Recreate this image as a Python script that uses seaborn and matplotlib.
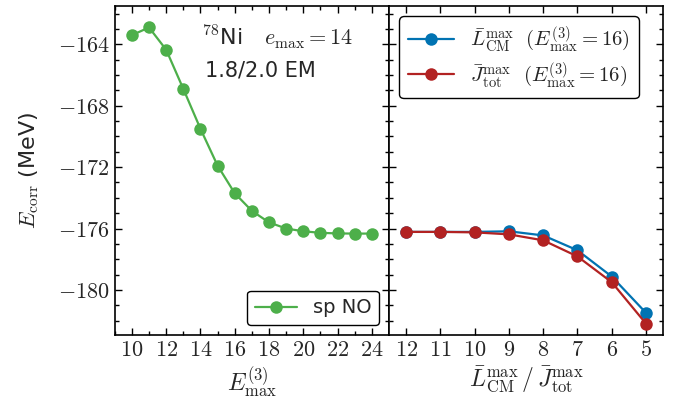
import seaborn as sns
import matplotlib.pyplot as plt
import pandas as pd
from matplotlib.ticker import MultipleLocator, FuncFormatter

# Data
e3max = [10, 11, 12, 13, 14, 15, 16, 17, 18, 19, 20, 21, 22, 23, 24]
e_sp_no = [-163.4, -162.9, -164.35, -166.9, -169.5, -171.9, -173.7, -174.85,
           -175.6, -176.0, -176.18, -176.28, -176.32, -176.33, -176.33]

trunc = [12, 11, 10, 9, 8, 7, 6, 5]
e_lcm = [-176.22, -176.22, -176.22, -176.18, -176.45, -177.42, -179.13, -181.5]
e_jtot = [-176.22, -176.22, -176.25, -176.38, -176.77, -177.82, -179.5, -182.2]

green = "#4daf4a"
blue = "#0173b2"
red = "#b22222"

sns.set_theme(style="ticks")
plt.rcParams["font.family"] = ["DejaVu Sans"]
plt.rcParams["mathtext.fontset"] = "cm"
plt.rcParams["xtick.major.size"] = 5
plt.rcParams["ytick.major.size"] = 5
plt.rcParams["xtick.minor.size"] = 3
plt.rcParams["ytick.minor.size"] = 3

left_df = pd.DataFrame({"x": e3max, "E": e_sp_no})
right_df = pd.DataFrame({
    "x": trunc * 2,
    "E": e_lcm + e_jtot,
    "kind": [r"$\bar{L}^{\max}_{\rm CM}\ \ (E^{(3)}_{\max}=16)$"] * len(trunc)
    + [r"$\bar{J}^{\max}_{\rm tot}\ \ (E^{(3)}_{\max}=16)$"] * len(trunc),
})

fig, (ax1, ax2) = plt.subplots(1, 2, sharey=True, figsize=(6.83, 4.16), dpi=100)
fig.subplots_adjust(left=0.168, right=0.971, top=0.9856, bottom=0.195, wspace=0)

sns.lineplot(data=left_df, x="x", y="E", ax=ax1, color=green, marker="o",
             markersize=9, markeredgewidth=0, linewidth=1.6, label="sp NO")
sns.lineplot(data=right_df, x="x", y="E", hue="kind", ax=ax2,
             palette=[blue, red], marker="o", markersize=9,
             markeredgewidth=0, linewidth=1.6)

math_fmt = FuncFormatter(lambda v, p: f"${v:g}$")

ax1.set_xlim(9, 25)
ax1.xaxis.set_major_locator(MultipleLocator(2))
ax1.xaxis.set_minor_locator(MultipleLocator(1))
ax2.set_xlim(12.5, 4.5)
ax2.xaxis.set_major_locator(MultipleLocator(1))
ax1.set_ylim(-182.93, -161.5)
ax1.yaxis.set_major_locator(MultipleLocator(4))
ax1.yaxis.set_minor_locator(MultipleLocator(1))

for ax in (ax1, ax2):
    ax.xaxis.set_major_formatter(math_fmt)
    ax.yaxis.set_major_formatter(math_fmt)
    ax.tick_params(which="both", top=True, right=True, direction="in",
                   labelsize=16, color="black", width=1)
    for s in ax.spines.values():
        s.set_color("black")
        s.set_linewidth(1.2)

ax1.set_xlabel(r"$E^{(3)}_{\max}$", fontsize=17)
ax2.set_xlabel(r"$\bar{L}^{\max}_{\rm CM}\,/\,\bar{J}^{\max}_{\rm tot}$", fontsize=17)
ax1.set_ylabel(r"$E_{\rm corr}$ (MeV)", fontsize=16)
ax1.yaxis.set_label_coords(-0.27, 0.5)
ax2.set_ylabel("")

ax1.text(0.32, 0.906, r"$^{78}$Ni   $e_{\max}=14$", transform=ax1.transAxes,
         fontsize=16, va="center", ha="left")
ax1.text(0.33, 0.805, "1.8/2.0 EM", transform=ax1.transAxes,
         fontsize=15, va="center", ha="left")

leg1 = ax1.legend(loc="lower right", fontsize=14, frameon=True, fancybox=True,
                  edgecolor="black", framealpha=1, handlelength=2.2)
leg1.get_frame().set_linewidth(1.0)
leg2 = ax2.legend(loc="upper left", fontsize=15, frameon=True, fancybox=True,
                  edgecolor="black", framealpha=1, title=None,
                  labelspacing=0.3, handlelength=2.2)
leg2.get_frame().set_linewidth(1.0)

plt.savefig("out.png", dpi=100)
